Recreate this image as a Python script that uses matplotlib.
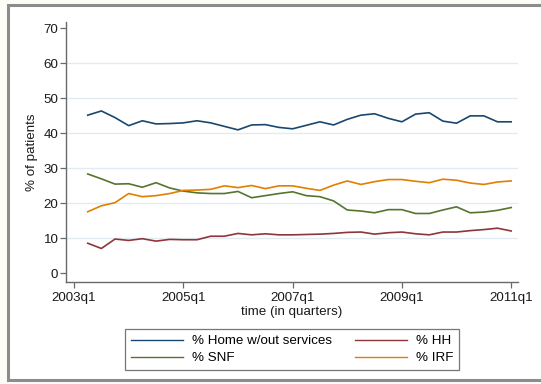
import matplotlib.pyplot as plt
from matplotlib.patches import Rectangle

# quarters 2003q2 .. 2011q1 (index 0 = 2003q1)
quarter_idx = list(range(1, 33))
tick_pos = [0, 8, 16, 24, 32]
tick_labels = ["2003q1", "2005q1", "2007q1", "2009q1", "2011q1"]

home = [45.2, 46.4, 44.5, 42.2, 43.6, 42.7, 42.8, 43.0,
        43.6, 43.0, 42.0, 41.0, 42.4, 42.5, 41.7, 41.3,
        42.3, 43.3, 42.4, 44.0, 45.2, 45.6, 44.3, 43.3,
        45.5, 45.9, 43.5, 42.9, 45.0, 45.0, 43.3, 43.3]
hh = [8.6, 7.1, 9.8, 9.4, 9.9, 9.2, 9.7, 9.6,
      9.6, 10.6, 10.6, 11.4, 11.0, 11.3, 11.0, 11.0,
      11.1, 11.2, 11.4, 11.7, 11.8, 11.2, 11.6, 11.8,
      11.3, 11.0, 11.8, 11.8, 12.2, 12.5, 12.9, 12.1]
snf = [28.4, 27.0, 25.5, 25.6, 24.6, 25.9, 24.4, 23.5,
       23.0, 22.8, 22.8, 23.4, 21.6, 22.2, 22.8, 23.3,
       22.2, 21.9, 20.7, 18.1, 17.8, 17.3, 18.2, 18.2,
       17.1, 17.1, 18.1, 19.0, 17.3, 17.5, 18.0, 18.8]
irf = [17.6, 19.3, 20.2, 22.8, 21.9, 22.2, 22.8, 23.7,
       23.8, 24.0, 25.0, 24.5, 25.1, 24.2, 25.0, 25.0,
       24.3, 23.7, 25.2, 26.4, 25.4, 26.2, 26.8, 26.8,
       26.3, 25.9, 26.9, 26.6, 25.8, 25.4, 26.1, 26.4]

plt.rcParams['font.family'] = ['Liberation Sans', 'DejaVu Sans']
plt.rcParams['font.size'] = 9.6

fig = plt.figure(figsize=(5.41, 3.84), dpi=100, facecolor='#fdfdf8')
# outer graph-region frame
fig.patches.append(Rectangle((0.0148, 0.0104), 1.05, 0.977, transform=fig.transFigure,
                             facecolor='#ffffff', edgecolor='#8c8c8c', linewidth=2.2, zorder=-10))

ax = fig.add_axes([0.122, 0.2648, 0.8355, 0.6786])
ax.set_zorder(2)
ax.set_facecolor('white')

ax.hlines([10, 20, 30, 40, 50, 60], -0.59, 32.5, color='#e1ebf2', linewidth=1.0, zorder=1)

l1, = ax.plot(quarter_idx, home, color='#1a476f', lw=1.2, zorder=3)
l2, = ax.plot(quarter_idx, hh, color='#90353b', lw=1.2, zorder=3)
l3, = ax.plot(quarter_idx, snf, color='#55752f', lw=1.2, zorder=3)
l4, = ax.plot(quarter_idx, irf, color='#e37e00', lw=1.2, zorder=3)

ax.set_xlim(-0.59, 32.5)
ax.set_ylim(-2.57, 71.9)
ax.set_xticks(tick_pos)
ax.set_xticklabels(tick_labels)
ax.set_yticks(range(0, 71, 10))

for s in ['top', 'right']:
    ax.spines[s].set_visible(False)
for s in ['left', 'bottom']:
    ax.spines[s].set_color('#6a6a6a')
    ax.spines[s].set_linewidth(1.0)
ax.tick_params(axis='both', colors='#6a6a6a', labelcolor='#1a1a1a', length=4, width=0.9)
ax.tick_params(axis='y', pad=1.5)
ax.tick_params(axis='x', pad=3)

ax.set_xlabel("time (in quarters)", color='#1a1a1a')
ax.xaxis.label.set_va('center')
ax.xaxis.set_label_coords(0.5, -0.114)
ax.set_ylabel("% of patients", color='#1a1a1a')
ax.yaxis.label.set_va('center')
ax.yaxis.set_label_coords(-0.075, 0.5)

leg = fig.legend([l1, l3, l2, l4], ["% Home w/out services", "% SNF", "% HH", "% IRF"],
                 ncol=2, loc='center', bbox_to_anchor=(0.54, 0.0898), fancybox=False,
                 frameon=True, edgecolor='#555555', handlelength=3.9, columnspacing=1.7,
                 handletextpad=0.7, labelspacing=0.35, borderpad=0.45, fontsize=9.6)
leg.get_frame().set_linewidth(0.9)
for h in leg.get_lines():
    h.set_linewidth(1.0)

fig.savefig('out.png', dpi=100, facecolor=fig.get_facecolor())
